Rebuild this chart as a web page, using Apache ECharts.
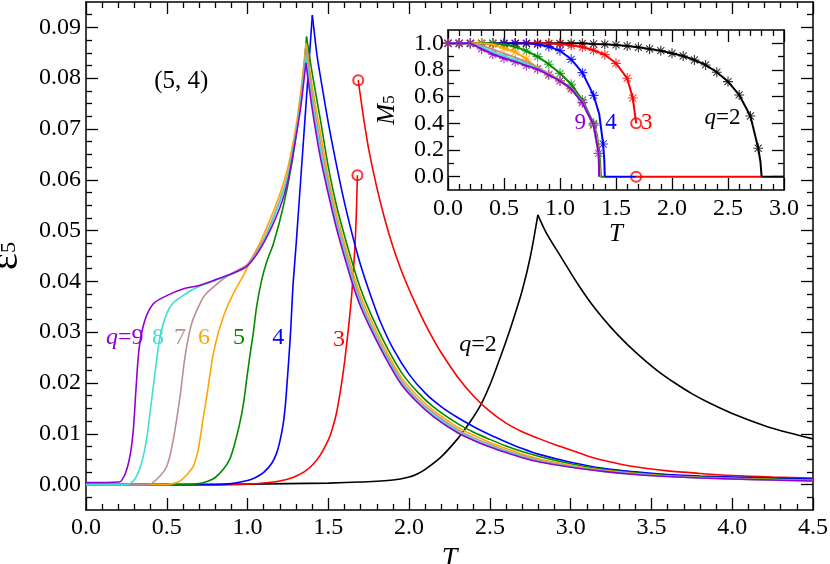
<!DOCTYPE html>
<html>
<head>
<meta charset="utf-8">
<title>epsilon_5 vs T</title>
<script src="https://cdn.jsdelivr.net/npm/echarts@6.0.0/dist/echarts.min.js"></script>
<style>
  html, body { margin: 0; padding: 0; background: #fff; }
  #chart { width: 830px; height: 564px; }
</style>
</head>
<body>
<div id="chart"></div>
<script>
/* ********************************************** */
// 主图数据：ε5 随 T 变化，q = 2..9
var t2 = [0, 0.5, 1.0, 1.5, 1.7, 1.9, 2.0, 2.05, 2.1, 2.2, 2.3, 2.35, 2.4, 2.45, 2.5, 2.55, 2.6, 2.65, 2.7, 2.75, 2.797, 2.85, 2.95, 3.05, 3.15, 3.25, 3.35, 3.45, 3.55, 3.65, 3.75, 3.85, 4.0, 4.2, 4.35, 4.5];
var e2 = [0, 0, 0.0001, 0.0003, 0.0005, 0.0009, 0.0015, 0.0021, 0.0030, 0.0055, 0.0090, 0.0111, 0.0134, 0.0161, 0.0196, 0.0238, 0.0282, 0.0330, 0.0382, 0.0448, 0.0531, 0.0495, 0.0443, 0.0392, 0.0347, 0.0309, 0.0276, 0.0247, 0.0221, 0.0199, 0.0179, 0.0162, 0.0140, 0.0116, 0.0102, 0.0090];

// q=3 在一级相变处断开：低温支 + 高温支
var t3a = [0, 0.8, 1.0, 1.1, 1.2, 1.28, 1.35, 1.4, 1.45, 1.5, 1.52, 1.55, 1.58, 1.6, 1.62, 1.635, 1.645, 1.655, 1.665, 1.673, 1.68];
var e3a = [0, 0, 0.0001, 0.0003, 0.0007, 0.0014, 0.0025, 0.0038, 0.0058, 0.0088, 0.0105, 0.0140, 0.0195, 0.0240, 0.0295, 0.0340, 0.0375, 0.0420, 0.0470, 0.0530, 0.0609];
var t3b = [1.685, 1.70, 1.72, 1.75, 1.80, 1.85, 1.90, 1.95, 2.0, 2.05, 2.1, 2.15, 2.2, 2.3, 2.4, 2.5, 2.6, 2.7, 2.8, 2.9, 3.0, 3.1, 3.2, 3.4, 3.6, 3.8, 4.0, 4.25, 4.5];
var e3b = [0.0796, 0.0762, 0.0718, 0.0660, 0.0585, 0.0522, 0.0468, 0.0423, 0.0384, 0.0349, 0.0316, 0.0286, 0.0259, 0.0212, 0.0174, 0.0144, 0.0121, 0.0104, 0.0091, 0.0079, 0.0068, 0.0057, 0.0048, 0.0035, 0.0027, 0.0022, 0.0018, 0.0015, 0.0013];

var t4 = [0, 0.8, 0.9, 1.0, 1.05, 1.1, 1.15, 1.18, 1.2, 1.22, 1.235, 1.246, 1.257, 1.267, 1.275, 1.283, 1.30, 1.33, 1.36, 1.38, 1.401, 1.43, 1.45, 1.50, 1.55, 1.60, 1.65, 1.70, 1.77, 1.82, 1.9, 2.0, 2.1, 2.2, 2.3, 2.4, 2.5, 2.6, 2.7, 2.8, 3.0, 3.2, 3.4, 3.6, 3.8, 4.0, 4.25, 4.5];
var e4 = [0, 0, 0.0002, 0.0008, 0.0014, 0.0024, 0.0042, 0.0062, 0.0085, 0.0118, 0.0160, 0.0206, 0.0255, 0.0304, 0.0355, 0.0400, 0.0470, 0.0605, 0.0740, 0.0830, 0.0924, 0.0845, 0.0805, 0.0712, 0.0630, 0.0555, 0.0490, 0.0432, 0.0365, 0.0322, 0.0268, 0.0217, 0.0180, 0.0153, 0.0132, 0.0114, 0.0098, 0.0084, 0.0071, 0.0060, 0.0044, 0.0032, 0.0025, 0.0020, 0.0017, 0.0015, 0.0013, 0.0011];

var t5 = [0, 0.6, 0.7, 0.75, 0.8, 0.85, 0.89, 0.92, 0.95, 0.975, 0.994, 1.015, 1.035, 1.056, 1.087, 1.12, 1.16, 1.22, 1.27, 1.31, 1.34, 1.365, 1.40, 1.45, 1.50, 1.55, 1.60, 1.65, 1.70, 1.76, 1.85, 1.95, 2.05, 2.15, 2.3, 2.4, 2.5, 2.6, 2.7, 2.8, 3.0, 3.2, 3.4, 3.6, 3.8, 4.0, 4.25, 4.5];
var e5 = [0, 0, 0.0002, 0.0006, 0.0014, 0.0030, 0.0050, 0.0080, 0.0118, 0.0160, 0.0206, 0.0255, 0.0297, 0.0350, 0.0402, 0.0440, 0.0474, 0.0546, 0.0625, 0.0710, 0.0790, 0.0882, 0.0810, 0.0720, 0.0625, 0.0550, 0.0490, 0.0435, 0.0385, 0.0338, 0.0278, 0.0222, 0.0183, 0.0153, 0.0120, 0.0103, 0.0089, 0.0076, 0.0065, 0.0056, 0.0041, 0.0030, 0.0023, 0.0018, 0.0015, 0.0013, 0.0011, 0.0009];

var t6 = [0, 0.5, 0.55, 0.582, 0.62, 0.664, 0.69, 0.705, 0.725, 0.747, 0.768, 0.788, 0.82, 0.85, 0.871, 0.90, 0.932, 0.974, 1.02, 1.08, 1.14, 1.2, 1.25, 1.30, 1.33, 1.363, 1.40, 1.45, 1.50, 1.55, 1.60, 1.65, 1.70, 1.76, 1.85, 1.95, 2.05, 2.15, 2.3, 2.4, 2.5, 2.6, 2.7, 2.8, 3.0, 3.2, 3.4, 3.6, 3.8, 4.0, 4.25, 4.5];
var e6 = [0, 0, 0.0003, 0.0007, 0.0018, 0.0036, 0.0062, 0.0088, 0.0130, 0.0173, 0.0218, 0.0258, 0.0300, 0.0330, 0.0348, 0.0368, 0.0388, 0.0412, 0.0442, 0.0478, 0.0522, 0.0572, 0.0625, 0.0705, 0.0775, 0.0869, 0.0785, 0.0695, 0.0605, 0.0535, 0.0475, 0.0420, 0.0372, 0.0327, 0.0268, 0.0212, 0.0175, 0.0146, 0.0113, 0.0097, 0.0083, 0.0071, 0.0060, 0.0051, 0.0038, 0.0028, 0.0022, 0.0017, 0.0014, 0.0012, 0.0010, 0.0008];

var t7 = [0, 0.38, 0.437, 0.5, 0.54, 0.582, 0.613, 0.654, 0.716, 0.75, 0.8, 0.85, 0.9, 0.95, 1.0, 1.1, 1.2, 1.25, 1.30, 1.33, 1.362, 1.40, 1.45, 1.50, 1.55, 1.60, 1.65, 1.70, 1.76, 1.85, 1.95, 2.05, 2.15, 2.3, 2.4, 2.5, 2.6, 2.7, 2.8, 3.0, 3.2, 3.4, 3.6, 3.8, 4.0, 4.25, 4.5];
var e7 = [0, 0, 0.0010, 0.0036, 0.0088, 0.0173, 0.0252, 0.0317, 0.0363, 0.0378, 0.0392, 0.0405, 0.0415, 0.0424, 0.0434, 0.0483, 0.0560, 0.0612, 0.0695, 0.0760, 0.0858, 0.0768, 0.0675, 0.0592, 0.0522, 0.0464, 0.0410, 0.0362, 0.0318, 0.0261, 0.0206, 0.0169, 0.0141, 0.0108, 0.0092, 0.0079, 0.0067, 0.0057, 0.0048, 0.0036, 0.0027, 0.0021, 0.0017, 0.0014, 0.0011, 0.0009, 0.0008];

var t8 = [0, 0.25, 0.293, 0.325, 0.355, 0.38, 0.396, 0.427, 0.458, 0.5, 0.54, 0.582, 0.65, 0.7, 0.75, 0.8, 0.9, 1.0, 1.1, 1.2, 1.25, 1.30, 1.33, 1.362, 1.40, 1.45, 1.50, 1.55, 1.60, 1.65, 1.70, 1.76, 1.85, 1.95, 2.05, 2.15, 2.3, 2.4, 2.5, 2.6, 2.7, 2.8, 3.0, 3.2, 3.4, 3.6, 3.8, 4.0, 4.25, 4.5];
var e8 = [0, 0, 0.0007, 0.0025, 0.0056, 0.0100, 0.0140, 0.0219, 0.0291, 0.0337, 0.0358, 0.0368, 0.0382, 0.0390, 0.0396, 0.0402, 0.0414, 0.0431, 0.0480, 0.0557, 0.0608, 0.0692, 0.0755, 0.0845, 0.0754, 0.0660, 0.0582, 0.0513, 0.0456, 0.0402, 0.0356, 0.0313, 0.0256, 0.0202, 0.0165, 0.0137, 0.0105, 0.0089, 0.0076, 0.0065, 0.0055, 0.0046, 0.0035, 0.0026, 0.0020, 0.0016, 0.0013, 0.0011, 0.0009, 0.0007];

var t9 = [0, 0.204, 0.241, 0.272, 0.293, 0.309, 0.33, 0.365, 0.417, 0.5, 0.6, 0.7, 0.8, 0.9, 1.0, 1.1, 1.2, 1.25, 1.30, 1.33, 1.361, 1.40, 1.45, 1.50, 1.55, 1.60, 1.65, 1.70, 1.76, 1.85, 1.95, 2.05, 2.15, 2.3, 2.4, 2.5, 2.6, 2.7, 2.8, 3.0, 3.2, 3.4, 3.6, 3.8, 4.0, 4.25, 4.5];
var e9 = [0.0004, 0.0005, 0.0020, 0.0056, 0.0108, 0.0186, 0.0271, 0.0324, 0.0356, 0.0372, 0.0385, 0.0392, 0.0403, 0.0415, 0.0431, 0.0476, 0.0545, 0.0598, 0.0685, 0.0745, 0.0830, 0.0740, 0.0645, 0.0572, 0.0505, 0.0448, 0.0395, 0.0350, 0.0308, 0.0252, 0.0198, 0.0162, 0.0134, 0.0102, 0.0087, 0.0074, 0.0063, 0.0053, 0.0045, 0.0034, 0.0026, 0.0020, 0.0016, 0.0013, 0.0011, 0.0009, 0.0007];

// q=3 断点处的空心圆
var circT = [1.68, 1.685];
var circE = [0.0609, 0.0796];

/* ********************************************** */
// 插图数据：M5 随 T 变化（线 + 星号模拟点）
var m2T = [0, 1.2, 1.3, 1.4, 1.5, 1.6, 1.7, 1.8, 1.9, 2.0, 2.1, 2.2, 2.3, 2.4, 2.5, 2.6, 2.7, 2.77, 2.79, 2.8, 3.0];
var m2 = [1, 1, 0.995, 0.993, 0.988, 0.98, 0.97, 0.958, 0.945, 0.925, 0.905, 0.875, 0.838, 0.783, 0.713, 0.613, 0.455, 0.213, 0.11, 0, 0];
var sT2 = [0, 0.1, 0.2, 0.3, 0.4, 0.5, 0.6, 0.7, 0.8, 0.9, 1.0, 1.1, 1.2, 1.3, 1.4, 1.5, 1.6, 1.7, 1.8, 1.9, 2.0, 2.1, 2.2, 2.3, 2.4, 2.5, 2.6, 2.7, 2.77];
var sM2 = [1, 1, 1, 1, 1, 1, 1, 1, 1, 1, 1, 1, 1, 0.995, 0.993, 0.988, 0.98, 0.97, 0.958, 0.945, 0.925, 0.905, 0.875, 0.838, 0.783, 0.713, 0.613, 0.455, 0.213];

var m3T = [0, 0.8, 0.9, 1.0, 1.1, 1.2, 1.3, 1.4, 1.5, 1.6, 1.65, 1.68];
var m3 = [1, 1, 0.998, 0.995, 0.985, 0.972, 0.948, 0.915, 0.85, 0.738, 0.59, 0.40];
var m3zT = [1.68, 2.8];
var m3z = [0, 0];
var sT3 = [0, 0.1, 0.2, 0.3, 0.4, 0.5, 0.6, 0.7, 0.8, 0.9, 1.0, 1.1, 1.2, 1.3, 1.4, 1.5, 1.6, 1.65];
var sM3 = [1, 1, 1, 1, 1, 1, 1, 1, 1, 0.998, 0.995, 0.985, 0.972, 0.948, 0.915, 0.85, 0.738, 0.59];
var cT3 = [1.68, 1.68];
var cM3 = [0.40, 0];

var m4T = [0, 0.7, 0.8, 0.9, 1.0, 1.1, 1.2, 1.3, 1.35, 1.385, 1.395, 1.40, 1.68];
var m4 = [1, 1, 0.993, 0.975, 0.945, 0.88, 0.78, 0.61, 0.47, 0.245, 0.13, 0, 0];
var sT4 = [0, 0.1, 0.2, 0.3, 0.4, 0.5, 0.6, 0.7, 0.8, 0.9, 1.0, 1.1, 1.2, 1.3, 1.385];
var sM4 = [1, 1, 1, 1, 1, 1, 1, 1, 0.993, 0.975, 0.945, 0.88, 0.78, 0.61, 0.245];

var m5T = [0, 0.4, 0.5, 0.6, 0.7, 0.8, 0.9, 1.0, 1.1, 1.2, 1.3, 1.33, 1.35, 1.36, 1.365, 1.40];
var m5 = [1, 1, 0.993, 0.975, 0.943, 0.90, 0.843, 0.775, 0.693, 0.575, 0.40, 0.31, 0.19, 0.08, 0, 0];
var sT5 = [0, 0.1, 0.2, 0.3, 0.4, 0.5, 0.6, 0.7, 0.8, 0.9, 1.0, 1.1, 1.2, 1.3];
var sM5 = [1, 1, 1, 1, 1, 0.993, 0.975, 0.943, 0.90, 0.843, 0.775, 0.693, 0.575, 0.40];

var m6T = [0, 0.3, 0.4, 0.5, 0.6, 0.7, 0.8, 0.9, 1.0, 1.1, 1.2, 1.3, 1.33, 1.345, 1.352, 1.36];
var m6 = [1, 1, 0.993, 0.963, 0.935, 0.883, 0.813, 0.77, 0.72, 0.66, 0.56, 0.385, 0.28, 0.17, 0.08, 0];
var sT6 = [0, 0.1, 0.2, 0.3, 0.4, 0.5, 0.6, 0.7, 0.8, 0.9, 1.0, 1.1, 1.2, 1.3];
var sM6 = [1, 1, 1, 1, 0.993, 0.963, 0.935, 0.883, 0.813, 0.77, 0.72, 0.66, 0.56, 0.385];

var m7T = [0, 0.2, 0.3, 0.4, 0.5, 0.6, 0.7, 0.8, 0.9, 1.0, 1.1, 1.2, 1.3, 1.345, 1.355];
var m7 = [1, 1, 0.985, 0.955, 0.925, 0.895, 0.86, 0.82, 0.772, 0.72, 0.66, 0.56, 0.385, 0.17, 0];

var m8T = [0, 0.15, 0.2, 0.3, 0.4, 0.5, 0.6, 0.7, 0.8, 0.9, 1.0, 1.1, 1.2, 1.3, 1.345, 1.352];
var m8 = [1, 1, 0.995, 0.97, 0.935, 0.905, 0.875, 0.845, 0.81, 0.765, 0.72, 0.66, 0.557, 0.386, 0.17, 0];

var m9T = [0, 0.2, 0.3, 0.4, 0.5, 0.6, 0.7, 0.8, 0.9, 1.0, 1.1, 1.2, 1.3, 1.345, 1.35];
var m9 = [1, 1, 0.958, 0.918, 0.888, 0.863, 0.833, 0.806, 0.763, 0.718, 0.658, 0.555, 0.388, 0.175, 0];
var sT9 = [0, 0.1, 0.2, 0.3, 0.4, 0.5, 0.6, 0.7, 0.8, 0.9, 1.0, 1.1, 1.2, 1.3, 1.345];
var sM9 = [1, 1, 1, 0.958, 0.918, 0.888, 0.863, 0.833, 0.806, 0.763, 0.718, 0.658, 0.555, 0.388, 0.175];

// 坐标轴刻度
var mainYLabels = [0, 0.01, 0.02, 0.03, 0.04, 0.05, 0.06, 0.07, 0.08, 0.09];
var insetYLabels = [0, 0.2, 0.4, 0.6, 0.8, 1.0];
var insetYMinor = [0.1, 0.3, 0.5, 0.7, 0.9];
var mainYMinor = [];
for (var k = -1; k <= 37; k++) {
    if (k % 4 !== 0) mainYMinor.push(+(k * 0.0025).toFixed(4));
}

// 文字标注
var mainLabels = [
    { text: '{i|q}=9', t: 0.24, v: 0.0290, q: 9 },
    { text: '8', t: 0.446, v: 0.0290, q: 8 },
    { text: '7', t: 0.582, v: 0.0290, q: 7 },
    { text: '6', t: 0.73, v: 0.0290, q: 6 },
    { text: '5', t: 0.947, v: 0.0290, q: 5 },
    { text: '4', t: 1.19, v: 0.0290, q: 4 },
    { text: '3', t: 1.566, v: 0.0285, q: 3 },
    { text: '{i|q}=2', t: 2.426, v: 0.0275, q: 2 },
    { text: '(5, 4)', t: 0.59, v: 0.0794, q: 2, size: 25 }
];
var insetLabels = [
    { text: '9', t: 1.18, v: 0.40, q: 9 },
    { text: '4', t: 1.455, v: 0.40, q: 4 },
    { text: '3', t: 1.775, v: 0.40, q: 3 },
    { text: '{i|q}=2', t: 2.45, v: 0.44, q: 2 }
];

var COLORS = { 2: '#000000', 3: '#ff0000', 4: '#0000ff', 5: '#008b00', 6: '#ffa500', 7: '#bc8f8f', 8: '#40e0d0', 9: '#9400d3' };
var FONT = 'Liberation Serif';
// 星号（*）符号
var STAR = 'path://M-1.1,-10L1.1,-10L1.1,10L-1.1,10Z M-10,-1.1L10,-1.1L10,1.1L-10,1.1Z M-7.8,-6.3L-6.3,-7.8L7.8,6.3L6.3,7.8Z M6.3,-7.8L7.8,-6.3L-6.3,7.8L-7.8,6.3Z';

function zip(t, v) {
    return t.map(function (x, i) { return [x, v[i]]; });
}

/* ********************************************** */
// 坐标轴
var blackLine = { color: '#000', width: 1.5 };
var tickLine = { color: '#000', width: 1.3 };
var labelFont = { color: '#000', fontFamily: FONT, fontSize: 24, fontWeight: 'normal' };

function xAx(grid, pos, min, max, showLabel, margin) {
    return {
        type: 'value', gridIndex: grid, position: pos, min: min, max: max, interval: 0.5,
        axisLine: { show: true, onZero: false, lineStyle: blackLine },
        axisTick: { show: true, inside: true, length: 12, lineStyle: tickLine },
        minorTick: { show: true, splitNumber: 5, length: 6, lineStyle: tickLine },
        axisLabel: Object.assign({
            show: showLabel, margin: margin,
            formatter: function (v) { return v.toFixed(1); }
        }, labelFont),
        splitLine: { show: false },
        minorSplitLine: { show: false }
    };
}

function yAx(grid, pos, min, max, ticks, len, labels, digits, margin) {
    return {
        type: 'value', gridIndex: grid, position: pos, min: min, max: max,
        axisLine: { show: len > 8, onZero: false, lineStyle: blackLine },
        axisTick: { show: true, inside: true, length: len, customValues: ticks, lineStyle: tickLine },
        axisLabel: labels ? Object.assign({
            show: true, customValues: labels, margin: margin,
            formatter: function (v) { return v.toFixed(digits); }
        }, labelFont) : { show: false },
        splitLine: { show: false }
    };
}

var xMain = xAx(0, 'bottom', 0, 4.5, true, 6);
xMain.name = 'T';
xMain.nameLocation = 'middle';
xMain.nameGap = 28;
xMain.nameTextStyle = { fontFamily: FONT, fontStyle: 'italic', fontSize: 28, color: '#000' };

var xInset = xAx(1, 'bottom', 0, 3, true, 7);
xInset.name = 'T';
xInset.nameLocation = 'middle';
xInset.nameGap = 21;
xInset.nameTextStyle = { fontFamily: FONT, fontStyle: 'italic', fontSize: 25, color: '#000' };

var yMain = yAx(0, 'left', -0.005, 0.095, mainYLabels, 12, mainYLabels, 2, 5);
yMain.name = '{e|ε}{s|5}';
yMain.nameLocation = 'middle';
yMain.nameRotate = 90;
yMain.nameGap = 54;
yMain.nameTextStyle = {
    color: '#000', fontFamily: FONT, fontSize: 38,
    rich: {
        e: { fontFamily: FONT, fontSize: 40, color: '#000', padding: [0, 0, 6, 0] },
        s: { fontFamily: FONT, fontSize: 22, color: '#000' }
    }
};

var yInset = yAx(1, 'left', -0.1, 1.1, insetYLabels, 12, insetYLabels, 1, 4);
yInset.name = '{m|M}{s|5}';
yInset.nameLocation = 'middle';
yInset.nameRotate = 90;
yInset.nameGap = 44;
yInset.nameTextStyle = {
    color: '#000', fontFamily: FONT, fontSize: 25,
    rich: {
        m: { fontFamily: FONT, fontStyle: 'italic', fontSize: 25, color: '#000', padding: [0, 0, 4, 0] },
        s: { fontFamily: FONT, fontSize: 17, color: '#000' }
    }
};

/* ********************************************** */
// 系列
var series = [];
function lineSeries(data, q, xi, yi, w, smooth) {
    return {
        type: 'line', xAxisIndex: xi, yAxisIndex: yi, data: data,
        symbol: 'none', showSymbol: false, silent: true, animation: false, smooth: smooth,
        lineStyle: { color: COLORS[q], width: w }, itemStyle: { color: COLORS[q] }
    };
}
// 主图曲线：在尖峰处拆成两段分别平滑，保持尖点
function addCurve(t, v, q) {
    var ip = 0;
    for (var i = 1; i < v.length; i++) if (v[i] > v[ip]) ip = i;
    var d = zip(t, v);
    series.push(lineSeries(d.slice(0, ip + 1), q, 0, 0, 1.6, 0.3));
    if (ip < d.length - 1) series.push(lineSeries(d.slice(ip), q, 0, 0, 1.6, 0.3));
}
function addLine(t, v, q) {
    series.push(lineSeries(zip(t, v), q, 2, 4, 2, false));
}
function addStars(t, v, q) {
    series.push({
        type: 'scatter', xAxisIndex: 2, yAxisIndex: 4, data: zip(t, v),
        symbol: STAR, symbolSize: 10, silent: true, animation: false,
        itemStyle: { color: COLORS[q] }
    });
}
function addCircles(t, v, xi, yi) {
    series.push({
        type: 'scatter', xAxisIndex: xi, yAxisIndex: yi, data: zip(t, v),
        symbol: 'emptyCircle', symbolSize: 10, silent: true, animation: false,
        itemStyle: { color: COLORS[3], borderWidth: 1.6 }
    });
}

// 主图
addCurve(t2, e2, 2);
series.push(lineSeries(zip(t3a, e3a), 3, 0, 0, 1.6, 0.3));
series.push(lineSeries(zip(t3b, e3b), 3, 0, 0, 1.6, 0.3));
addCurve(t4, e4, 4);
addCurve(t5, e5, 5);
addCurve(t6, e6, 6);
addCurve(t7, e7, 7);
addCurve(t8, e8, 8);
addCurve(t9, e9, 9);
addCircles(circT, circE, 0, 0);

// 插图
addLine(m2T, m2, 2);
addStars(sT2, sM2, 2);
addLine(m3T, m3, 3);
addLine(m3zT, m3z, 3);
addStars(sT3, sM3, 3);
addLine(m4T, m4, 4);
addStars(sT4, sM4, 4);
addLine(m5T, m5, 5);
addStars(sT5, sM5, 5);
addLine(m6T, m6, 6);
addStars(sT6, sM6, 6);
addLine(m7T, m7, 7);
addLine(m8T, m8, 8);
addLine(m9T, m9, 9);
addStars(sT9, sM9, 9);
addCircles(cT3, cM3, 2, 4);

var myChart = echarts.init(document.getElementById('chart'), null, { renderer: 'canvas' });
var option = {
    backgroundColor: '#fff',
    animation: false,
    textStyle: { fontFamily: FONT, color: '#000' },
    grid: [
        { left: 86, right: 17, top: 2, bottom: 54, outerBoundsMode: 'none' },
        { left: 448, right: 46, top: 30, bottom: 374, outerBoundsMode: 'none' }
    ],
    xAxis: [
        xMain,
        xAx(0, 'top', 0, 4.5, false, 6),
        xInset,
        xAx(1, 'top', 0, 3, false, 7)
    ],
    yAxis: [
        yMain,
        yAx(0, 'left', -0.005, 0.095, mainYMinor, 6, null),
        yAx(0, 'right', -0.005, 0.095, mainYLabels, 12, null),
        yAx(0, 'right', -0.005, 0.095, mainYMinor, 6, null),
        yInset,
        yAx(1, 'left', -0.1, 1.1, insetYMinor, 6, null),
        yAx(1, 'right', -0.1, 1.1, insetYLabels, 12, null),
        yAx(1, 'right', -0.1, 1.1, insetYMinor, 6, null)
    ],
    series: series
};
myChart.setOption(option);

// 用坐标换算放置标注文字
function makeText(lab, xi, yi, size) {
    var p = myChart.convertToPixel({ xAxisIndex: xi, yAxisIndex: yi }, [lab.t, lab.v]);
    var fs = lab.size || size;
    var c = COLORS[lab.q];
    return {
        type: 'text', x: p[0], y: p[1], silent: true, z: 100,
        style: {
            text: lab.text, fill: c, fontFamily: FONT, fontSize: fs,
            align: 'center', verticalAlign: 'middle',
            rich: { i: { fontFamily: FONT, fontStyle: 'italic', fontSize: fs, fill: c } }
        }
    };
}
var graphics = [];
mainLabels.forEach(function (lab) { graphics.push(makeText(lab, 0, 0, 24)); });
insetLabels.forEach(function (lab) { graphics.push(makeText(lab, 2, 4, 23)); });
myChart.setOption({ graphic: graphics });
</script>
</body>
</html>
